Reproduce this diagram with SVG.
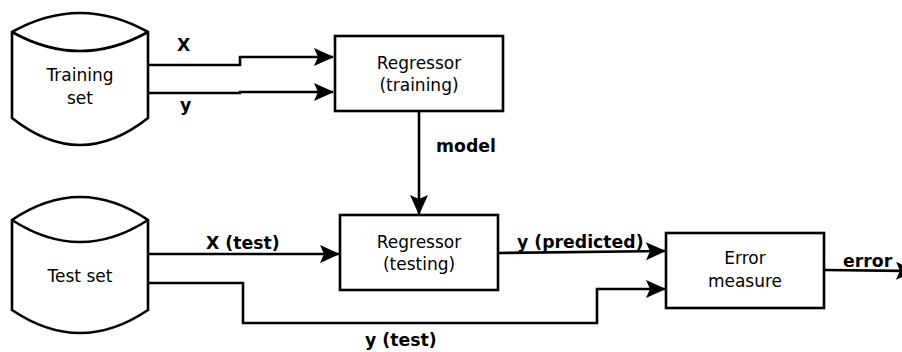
<svg xmlns="http://www.w3.org/2000/svg" width="902" height="352" viewBox="0 0 902 352">
  <style>
    .shape { fill: #ffffff; stroke: #000000; stroke-width: 2.6; stroke-linejoin: miter; }
    .wire { fill: none; stroke: #000000; stroke-width: 2.6; marker-end: url(#head); }
    .name { font-family: "DejaVu Sans", "Liberation Sans", sans-serif; font-size: 17px; fill: #000000; text-anchor: middle; }
    .tag { font-family: "DejaVu Sans", "Liberation Sans", sans-serif; font-size: 17.3px; font-weight: bold; fill: #000000; }
  </style>
  <defs>
    <marker id="head" markerUnits="userSpaceOnUse" markerWidth="20" markerHeight="18" refX="19" refY="9" orient="auto" overflow="visible">
      <path d="M0,0 L20,9 L0,18 L4,9 Z" fill="#000000"/>
    </marker>
  </defs>
  <rect width="902" height="352" fill="#ffffff"/>

  <g id="connectors">
    <path class="wire" d="M148,65 H240 V57 H333"/>
    <path class="wire" d="M148,93 H240 V92 H333"/>
    <path class="wire" d="M419,111 V214"/>
    <path class="wire" d="M148,254 H339"/>
    <path class="wire" d="M498,253 L665,251"/>
    <path class="wire" d="M148,283 H243 V323 H597 V289 H665"/>
    <path class="wire" d="M824,270 L915,271"/>
    <text class="tag" x="177" y="51">X</text>
    <text class="tag" x="180" y="111">y</text>
    <text class="tag" x="436" y="152">model</text>
    <text class="tag" x="206" y="249">X (test)</text>
    <text class="tag" x="517" y="248">y (predicted)</text>
    <text class="tag" x="365" y="346">y (test)</text>
    <text class="tag" x="843" y="267">error</text>
  </g>

  <g id="training-set">
    <path class="shape" d="M12,32 Q80,-6 148,32 V118 Q80,172 12,118 Z"/>
    <path class="shape" d="M12,32 Q80,70 148,32" fill="none"/>
    <text class="name" x="80" y="81">Training</text>
    <text class="name" x="80" y="104">set</text>
  </g>

  <g id="regressor-training">
    <rect class="shape" x="335" y="36" width="168" height="75"/>
    <text class="name" x="419" y="69">Regressor</text>
    <text class="name" x="419" y="91">(training)</text>
  </g>

  <g id="test-set">
    <path class="shape" d="M12,220 Q80,174 148,220 V310 Q80,356 12,310 Z"/>
    <path class="shape" d="M12,220 Q80,264 148,220" fill="none"/>
    <text class="name" x="80" y="282">Test set</text>
  </g>

  <g id="regressor-testing">
    <rect class="shape" x="340" y="215" width="158" height="75"/>
    <text class="name" x="419" y="248">Regressor</text>
    <text class="name" x="419" y="270">(testing)</text>
  </g>

  <g id="error-measure">
    <rect class="shape" x="666" y="233" width="158" height="75"/>
    <text class="name" x="745" y="264">Error</text>
    <text class="name" x="745" y="287">measure</text>
  </g>
</svg>
